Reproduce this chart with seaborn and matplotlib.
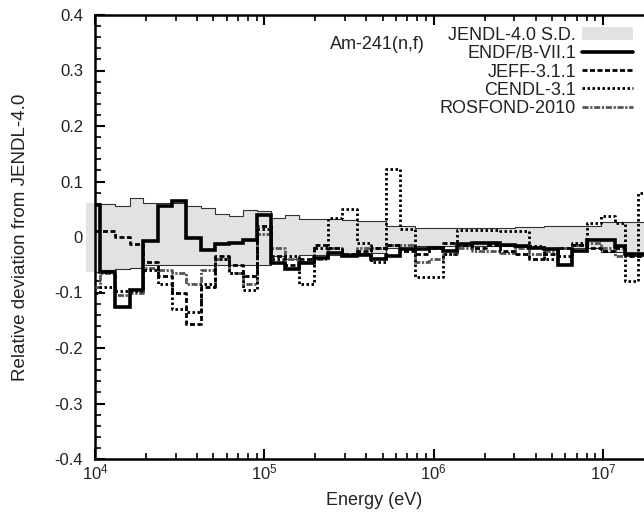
import numpy as np
import pandas as pd
import matplotlib
matplotlib.use("Agg")
import matplotlib.pyplot as plt
import seaborn as sns
from matplotlib.lines import Line2D
from matplotlib.patches import Patch
from matplotlib.ticker import FixedLocator, FixedFormatter, LogLocator, MultipleLocator, NullFormatter

# ---------------- data ----------------
energy_edges = [1.0e4, 1.07e4, 1.31e4, 1.6e4, 1.93e4, 2.36e4, 2.85e4, 3.47e4, 4.23e4, 5.12e4,
                6.19e4, 7.49e4, 9.0e4, 1.1e5, 1.33e5, 1.61e5, 1.97e5, 2.38e5, 2.88e5, 3.53e5,
                4.27e5, 5.24e5, 6.33e5, 7.71e5, 9.39e5, 1.14e6, 1.38e6, 1.69e6, 2.04e6, 2.48e6,
                3.03e6, 3.66e6, 4.46e6, 5.43e6, 6.57e6, 8.0e6, 9.68e6, 1.18e7, 1.35e7, 1.61e7,
                2.0e7]

sd_upper = [0.062, 0.059, 0.055, 0.070, 0.062, 0.062, 0.062, 0.056, 0.052, 0.041,
            0.038, 0.049, 0.046, 0.034, 0.040, 0.033, 0.033, 0.032, 0.030, 0.029,
            0.028, 0.020, 0.020, 0.017, 0.017, 0.017, 0.017, 0.017, 0.017, 0.017,
            0.018, 0.018, 0.019, 0.019, 0.020, 0.020, 0.027, 0.027, 0.027, 0.027]
sd_lower = [-0.063, -0.060, -0.058, -0.056, -0.050, -0.050, -0.050, -0.050, -0.050, -0.050,
            -0.050, -0.050, -0.050, -0.034, -0.040, -0.033, -0.033, -0.032, -0.030, -0.029,
            -0.028, -0.020, -0.020, -0.017, -0.017, -0.017, -0.017, -0.017, -0.017, -0.017,
            -0.018, -0.018, -0.019, -0.019, -0.020, -0.020, -0.027, -0.027, -0.034, -0.034]

endf = [0.057, -0.063, -0.126, -0.095, -0.008, 0.056, 0.064, -0.001, -0.023, -0.013,
        -0.010, -0.005, 0.040, -0.046, -0.058, -0.046, -0.037, -0.028, -0.034, -0.033,
        -0.040, -0.035, -0.022, -0.022, -0.020, -0.025, -0.012, -0.010, -0.010, -0.014,
        -0.016, -0.020, -0.022, -0.050, -0.025, -0.005, -0.005, -0.016, -0.030, -0.030]
jeff = [0.011, 0.011, 0.000, -0.012, -0.045, -0.070, -0.100, -0.157, -0.090, -0.035,
        -0.050, -0.070, 0.020, -0.035, -0.050, -0.040, -0.015, -0.020, -0.030, -0.025,
        -0.020, -0.015, -0.025, -0.030, -0.020, -0.010, -0.015, -0.020, -0.015, -0.025,
        -0.030, -0.040, -0.030, -0.020, -0.015, -0.020, -0.025, -0.020, -0.035, -0.035]
cendl = [-0.100, -0.090, -0.098, -0.098, -0.060, -0.085, -0.130, -0.135, -0.085, -0.040,
         -0.065, -0.095, 0.015, -0.040, -0.035, -0.085, -0.020, 0.035, 0.050, -0.010,
         -0.045, 0.122, 0.015, -0.072, -0.072, -0.030, 0.012, 0.012, 0.012, 0.010,
         0.010, -0.016, -0.040, -0.034, -0.010, 0.025, 0.038, 0.025, -0.080, 0.080]
rosfond = [-0.090, -0.065, -0.105, -0.100, -0.055, -0.060, -0.065, -0.085, -0.060, -0.040,
           -0.065, -0.085, 0.005, -0.020, -0.040, -0.045, -0.040, -0.020, -0.030, -0.020,
           -0.020, -0.015, -0.015, -0.045, -0.040, -0.030, -0.020, -0.025, -0.025, -0.028,
           -0.020, -0.030, -0.025, -0.020, -0.015, -0.010, -0.020, -0.035, -0.030, -0.030]

series_names = ["JENDL-4.0 S.D.", "ENDF/B-VII.1", "JEFF-3.1.1", "CENDL-3.1", "ROSFOND-2010"]
band_start = 8.85e3
ytick_values = [-0.4, -0.3, -0.2, -0.1, 0.0, 0.1, 0.2, 0.3, 0.4]
ytick_labels = ["-0.4", "-0.3", "-0.2", "-0.1", "0", "0.1", "0.2", "0.3", "0.4"]
reaction_label = "Am-241(n,f)"
x_label = "Energy (eV)"
y_label = "Relative deviation from JENDL-4.0"

# ---------------- style ----------------
sns.set_theme(style="ticks")
plt.rcParams["font.family"] = ["Liberation Sans", "DejaVu Sans"]
plt.rcParams["mathtext.default"] = "regular"


def steps(vals):
    return list(vals) + [vals[-1]]


rows = []
for name, vals in zip(series_names[1:], [endf, jeff, cendl, rosfond]):
    for e, v in zip(energy_edges, steps(vals)):
        rows.append({"series": name, "energy": e, "value": v})
df = pd.DataFrame(rows)

fig = plt.figure(figsize=(6.44, 5.19), dpi=100)
ax = fig.add_axes([95 / 644, 60 / 519, 559 / 644, 444 / 519])
ax.set_xscale("log")

band_color = "#e2e2e2"
ax.fill_between(energy_edges, steps(sd_lower), steps(sd_upper), step="post",
                color=band_color, lw=0, zorder=1)
ax.fill_between([band_start, energy_edges[0]], [sd_lower[0]] * 2, [sd_upper[0]] * 2,
                color=band_color, lw=0, zorder=1, clip_on=False)
for edge in (sd_upper, sd_lower):
    sns.lineplot(x=energy_edges, y=steps(edge), drawstyle="steps-post", color="#333333",
                 lw=0.8, ax=ax, estimator=None, errorbar=None, legend=False, zorder=2)

styles = {
    "ROSFOND-2010": dict(color="#555555", lw=2.0, linestyle=(0, (2.2, 0.6, 0.8, 0.6))),
    "CENDL-3.1": dict(color="black", lw=2.0, linestyle=(0, (0.9, 0.9))),
    "JEFF-3.1.1": dict(color="black", lw=2.0, linestyle=(0, (1.8, 0.9))),
    "ENDF/B-VII.1": dict(color="black", lw=2.6, linestyle="-"),
}
for z, name in enumerate(["ROSFOND-2010", "CENDL-3.1", "JEFF-3.1.1", "ENDF/B-VII.1"]):
    sub = df[df["series"] == name]
    sns.lineplot(data=sub, x="energy", y="value", drawstyle="steps-post", ax=ax,
                 estimator=None, errorbar=None, legend=False, zorder=3 + z,
                 solid_joinstyle="miter", **styles[name])

ax.set_xlim(1e4, 2e7)
ax.set_ylim(-0.4, 0.4)
ax.yaxis.set_major_locator(FixedLocator(ytick_values))
ax.yaxis.set_major_formatter(FixedFormatter(ytick_labels))
ax.yaxis.set_minor_locator(MultipleLocator(0.02))
ax.xaxis.set_major_locator(LogLocator(base=10))
ax.xaxis.set_minor_locator(LogLocator(base=10, subs=np.arange(2, 10)))
ax.xaxis.set_minor_formatter(NullFormatter())
ax.tick_params(which="both", direction="in", top=True, right=True, color="black",
               labelcolor="#222222", labelsize=12)
ax.tick_params(which="major", length=7, width=1.5)
ax.tick_params(which="minor", length=4, width=1.2)
ax.tick_params(axis="y", which="major", pad=8.6)
ax.tick_params(axis="x", which="major", pad=2.5)
for sp in ax.spines.values():
    sp.set_linewidth(1.8)
    sp.set_color("black")

ax.set_xlabel(x_label, fontsize=13, color="#222222")
ax.set_ylabel(y_label, fontsize=13.5, color="#222222")
ax.xaxis.set_label_coords(0.5, -0.075)
ax.yaxis.set_label_coords(-0.118, 0.5)

ax.text(0.42, 0.9516, reaction_label, transform=ax.transAxes, ha="left", va="top",
        fontsize=13, color="#222222")

handles = [Patch(facecolor=band_color, edgecolor="none")]
for name in series_names[1:]:
    st = styles[name]
    handles.append(Line2D([], [], color=st["color"], lw=st["lw"], linestyle=st["linestyle"]))
leg = fig.legend(handles, series_names, loc="upper right",
                 bbox_to_anchor=(633 / 644, 1 - 27 / 519), bbox_transform=fig.transFigure,
                 frameon=False, markerfirst=False, fontsize=13, handlelength=2.8,
                 handletextpad=0.35, labelspacing=0.07, borderpad=0, borderaxespad=0)
for t in leg.get_texts():
    t.set_color("#222222")

fig.savefig("out.png", dpi=100)
